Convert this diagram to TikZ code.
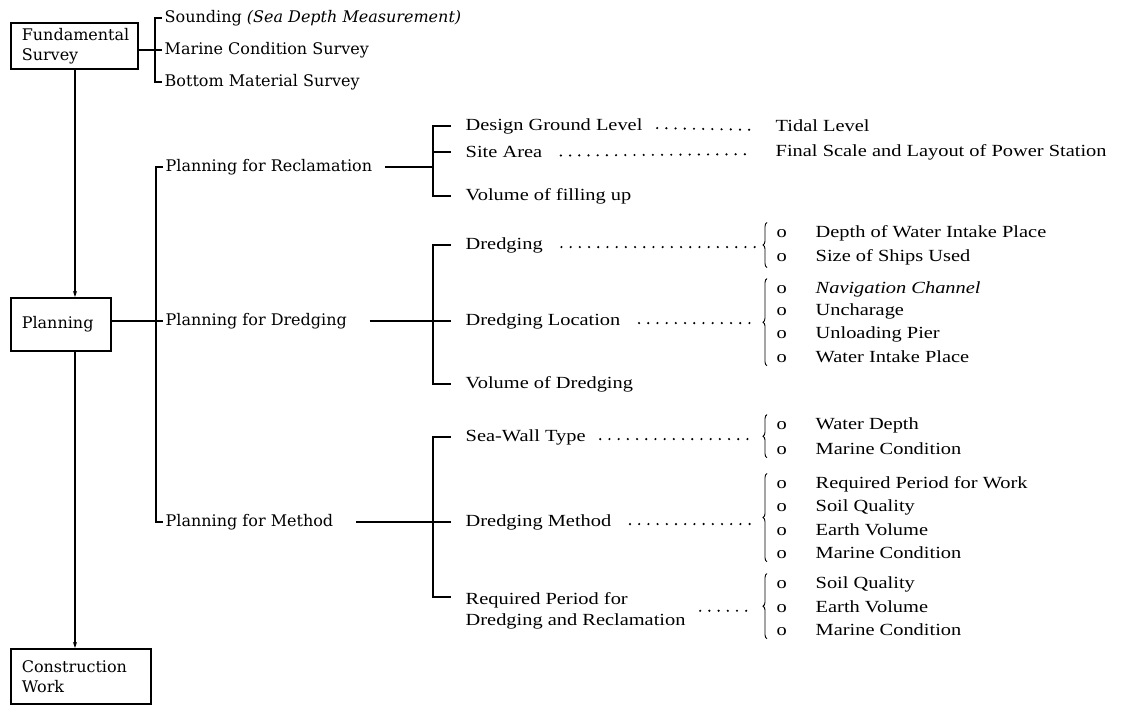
\documentclass[tikz,border=0pt]{standalone}
\usepackage{fontspec}
\setmainfont{Liberation Serif}[FakeStretch=1.2]
\newfontfamily\headfont{DejaVu Serif}
\usetikzlibrary{arrows.meta, calc, decorations.pathreplacing}

\newcommand{\opt}[1]{\makebox[39pt][l]{o}#1}

\begin{document}
\begin{tikzpicture}[x=1pt, y=-1pt, line width=1.4pt,
    >={Stealth[length=6pt,width=4pt]},
    box/.style={draw, line width=1.6pt, anchor=north west, align=left,
      inner xsep=11pt, font=\headfont\fontsize{16}{20}\selectfont},
    head/.style={anchor=west, inner sep=2pt, font=\headfont\fontsize{16}{20}\selectfont},
    item/.style={anchor=west, inner sep=2pt, font=\fontsize{17}{21}\selectfont},
    leader/.style={line width=2.4pt, dash pattern=on 0pt off 9.2pt, line cap=round},
    curly/.style={decorate, decoration={brace, amplitude=4pt}, line width=0.9pt}]
    \useasboundingbox (0,0) rectangle (1124,706);

    % Main boxes
    \node[box, text width=105pt, minimum height=46pt] (fund) at (10,22) {Fundamental\\Survey};
    \node[box, text width=78pt, minimum height=53pt] (plan) at (10,297) {Planning};
    \node[box, text width=118pt, minimum height=55pt] (cons) at (10,648) {Construction\\Work};

    \coordinate (spine) at (75,0);
    \draw[->] (fund.south -| spine) -- (plan.north -| spine);
    \draw[->] (plan.south -| spine) -- (cons.north -| spine);

    % Fundamental survey
    \node[head] (sound) at (162,18) {Sounding {\itshape (Sea Depth Measurement)}};
    \node[head] (marine) at (162,50) {Marine Condition Survey};
    \node[head] (bottom) at (162,82) {Bottom Material Survey};
    \draw (sound.west) -| ([xshift=-7pt]bottom.west) -- (bottom.west);
    \draw (fund.east |- marine.west) -- (marine.west);

    % Planning
    \node[head] (reclam) at (163,167) {Planning for Reclamation};
    \node[head] (dredge) at (163,321) {Planning for Dredging};
    \node[head] (method) at (163,522) {Planning for Method};
    \draw (reclam.west) -| ([xshift=-7pt]method.west) -- (method.west);
    \draw (plan.east |- dredge.west) -- (dredge.west);

    % Planning for reclamation
    \node[item] (ground) at (463,126) {Design Ground Level};
    \node[item] (area) at (463,152) {Site Area};
    \node[item] (fill) at (463,196) {Volume of filling up};
    \node[item] (tidal) at (773,126) {Tidal Level};
    \node[item] (layout) at (773,152) {Final Scale and Layout of Power Station};
    \coordinate (rb) at ($(ground.west)+(-30,0)$);
    \draw ([xshift=-12pt]ground.west) -- (rb) -- (rb |- fill.west) -- ([xshift=-12pt]fill.west);
    \draw ([xshift=-12pt]area.west) -- (rb |- area.west);
    \draw ([xshift=10pt]reclam.east) -- (rb |- reclam.east);
    \draw[leader] ($(ground.base east)+(12,-2)$) -- ($(tidal.base west)+(-22,-2)$);
    \draw[leader] ($(area.base east)+(16,-2)$) -- ($(layout.base west)+(-22,-2)$);

    % Planning for dredging
    \node[item] (dredging) at (463,245) {Dredging};
    \node[item] (location) at (463,321) {Dredging Location};
    \node[item] (voldredge) at (463,384) {Volume of Dredging};
    \coordinate (db) at ($(dredging.west)+(-30,0)$);
    \draw ([xshift=-12pt]dredging.west) -- (db) -- (db |- voldredge.west) -- ([xshift=-12pt]voldredge.west);
    \draw ([xshift=-12pt]location.west) -- (db |- location.west);
    \draw ([xshift=20pt]dredge.east) -- (db |- dredge.east);

    \node[item] (depth) at (774,233) {\opt{Depth of Water Intake Place}};
    \node[item] (ships) at (774,257) {\opt{Size of Ships Used}};
    \node[item] (channel) at (774,289) {\opt{\itshape Navigation Channel}};
    \node[item] (anchor) at (774,311) {\opt{Uncharage}};
    \node[item] (pier) at (774,334) {\opt{Unloading Pier}};
    \node[item] (intake) at (774,357) {\opt{Water Intake Place}};
    \draw[curly] ([xshift=-7pt]ships.south west) -- ([xshift=-7pt]depth.north west);
    \draw[curly] ([xshift=-7pt]intake.south west) -- ([xshift=-7pt]channel.north west);
    \draw[leader] ($(dredging.base east)+(16,-2)$) -- ($(depth.west |- dredging.base)+(-19,-2)$);
    \draw[leader] ($(location.base east)+(16,-2)$) -- ($(depth.west |- location.base)+(-19,-2)$);

    % Planning for method
    \node[item] (seawall) at (463,437) {Sea-Wall Type};
    \node[item] (dmethod) at (463,522) {Dredging Method};
    \node[item, align=left] (period) at (463,611) {Required Period for\\Dredging and Reclamation};
    \coordinate (mb) at ($(seawall.west)+(-30,0)$);
    \draw ([xshift=-12pt]seawall.west) -- (mb) -- (mb |- 0,597) -- ([xshift=-12pt]period.west |- 0,597);
    \draw ([xshift=-12pt]dmethod.west) -- (mb |- dmethod.west);
    \draw ([xshift=20pt]method.east) -- (mb |- method.east);

    \node[item] (wdepth) at (774,425) {\opt{Water Depth}};
    \node[item] (mcond) at (774,449) {\opt{Marine Condition}};
    \node[item] (work) at (774,484) {\opt{Required Period for Work}};
    \node[item] (soil) at (774,507) {\opt{Soil Quality}};
    \node[item] (earth) at (774,530) {\opt{Earth Volume}};
    \node[item] (mcondb) at (774,553) {\opt{Marine Condition}};
    \node[item] (soilb) at (774,584) {\opt{Soil Quality}};
    \node[item] (earthb) at (774,607) {\opt{Earth Volume}};
    \node[item] (mcondc) at (774,630) {\opt{Marine Condition}};
    \draw[curly] ([xshift=-7pt]mcond.south west) -- ([xshift=-7pt]wdepth.north west);
    \draw[curly] ([xshift=-7pt]mcondb.south west) -- ([xshift=-7pt]work.north west);
    \draw[curly] ([xshift=-7pt]mcondc.south west) -- ([xshift=-7pt]soilb.north west);
    \draw[leader] ($(seawall.base east)+(12,-2)$) -- ($(wdepth.west |- seawall.base)+(-19,-2)$);
    \draw[leader] ($(dmethod.base east)+(16,-2)$) -- ($(wdepth.west |- dmethod.base)+(-19,-2)$);
    \draw[leader] ($(period.east |- earthb.base)+(12,-2)$) -- ($(earthb.base west)+(-19,-2)$);
\end{tikzpicture}
\end{document}
